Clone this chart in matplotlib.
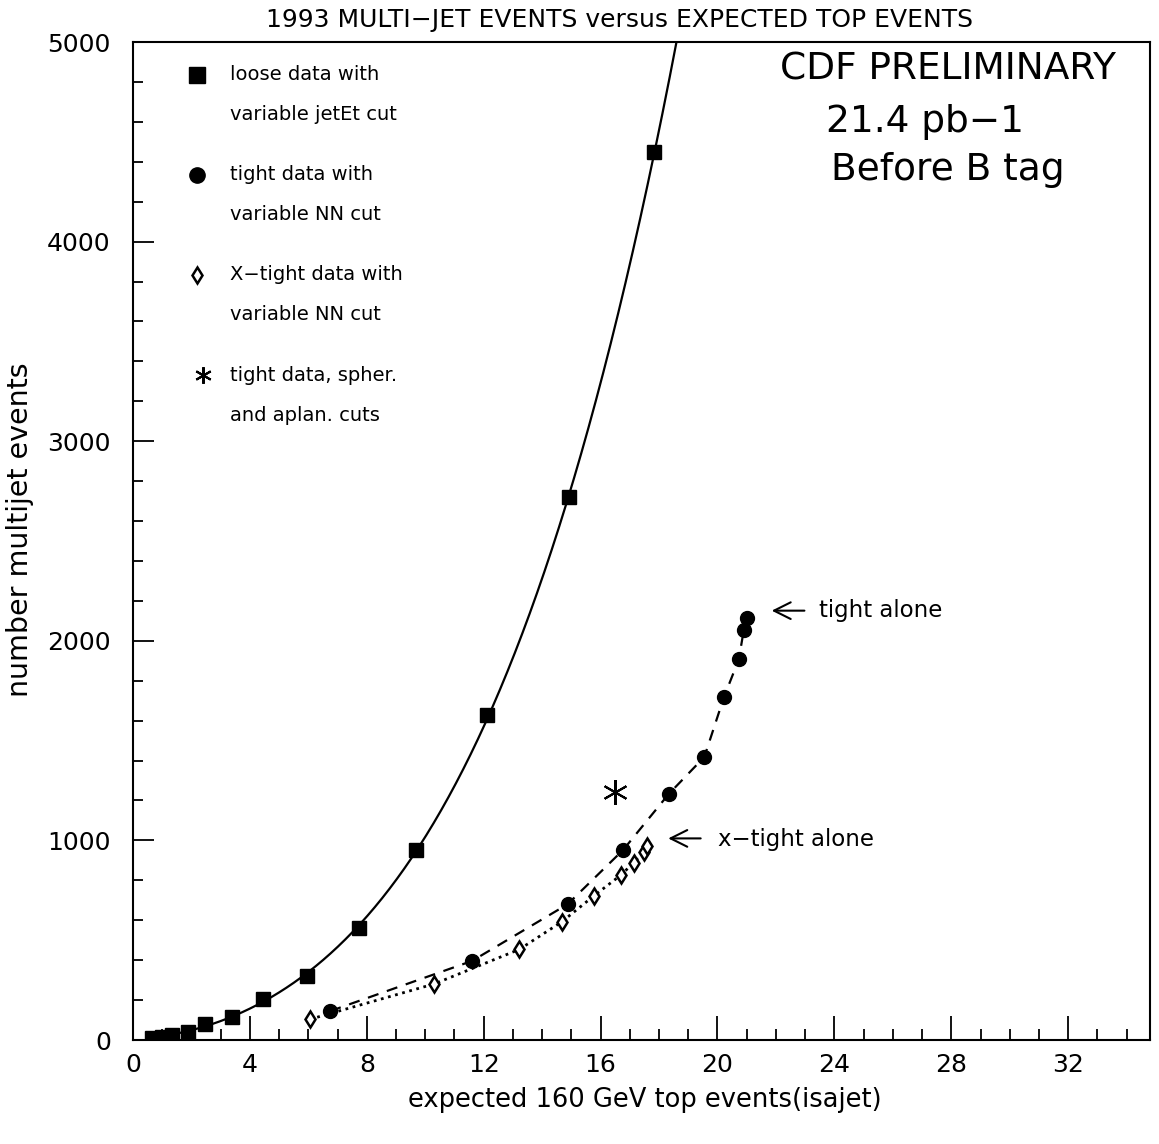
import numpy as np
import matplotlib
matplotlib.use('Agg')
import matplotlib.pyplot as plt

#----------------------------
#          DATA
#----------------------------
# loose data, variable jetEt cut
loose_x = [0.64, 0.98, 1.33, 1.89, 2.47, 3.38, 4.46, 5.95, 7.72, 9.69, 12.12, 14.93, 17.84]
loose_y = [10, 17, 25, 42, 80, 117, 204, 321, 560, 952, 1628, 2720, 4449]

# tight data, variable NN cut
tight_x = [6.75, 11.60, 14.87, 16.77, 18.33, 19.55, 20.22, 20.73, 20.90, 21.02]
tight_y = [145, 396, 680, 952, 1232, 1418, 1717, 1907, 2054, 2113]

# X-tight data, variable NN cut
xtight_x = [6.06, 10.31, 13.22, 14.68, 15.76, 16.70, 17.13, 17.48, 17.59]
xtight_y = [104, 281, 454, 593, 721, 827, 888, 943, 973]

# tight data, spher. and aplan. cuts
star_x = [16.51]
star_y = [1244]

legend_labels = ['loose data with', 'variable jetEt cut',
                 'tight data with', 'variable NN cut',
                 'X\u2212tight data with', 'variable NN cut',
                 'tight data, spher.', 'and aplan. cuts']

plt.rcParams['font.family'] = ['DejaVu Sans']

fig = plt.figure(figsize=(11.59, 11.44), dpi=100)
ax = fig.add_axes([133/1159, 1-1040/1144, 1017/1159, 998/1144])

# smooth curve through the loose points
coef = np.polyfit(loose_x, loose_y, 4)
xf = np.linspace(loose_x[0], 19.5, 300)
ax.plot(xf, np.polyval(coef, xf), color='black', lw=1.6)
ax.plot(loose_x, loose_y, 's', color='black', ms=10)

ax.plot(tight_x, tight_y, '--', color='black', lw=1.6, dashes=(5, 4))
ax.plot(tight_x, tight_y, 'o', color='black', ms=10)

ax.plot(xtight_x, xtight_y, ':', color='black', lw=2.0)
ax.plot(xtight_x, xtight_y, 'd', mfc='white', mec='black', mew=1.8, ms=8)

ax.plot(star_x, star_y, marker=(6, 2, 0), color='black', ms=18, mew=1.5, ls='none')

# annotations
ax.annotate('', xy=(21.76, 2151), xytext=(23.07, 2151),
            arrowprops=dict(arrowstyle='->', lw=1.5, mutation_scale=30, color='black'))
ax.text(23.46, 2151, 'tight alone', fontsize=16.5, va='center')
ax.annotate('', xy=(18.22, 1010), xytext=(19.52, 1010),
            arrowprops=dict(arrowstyle='->', lw=1.5, mutation_scale=30, color='black'))
ax.text(20.03, 1005, 'x\u2212tight alone', fontsize=16.5, va='center')

# legend drawn by hand
ly = [0.967, 0.927, 0.867, 0.827, 0.767, 0.727, 0.666, 0.626]
ax.plot(0.063, ly[0], 's', color='black', ms=11, transform=ax.transAxes)
ax.plot(0.063, ly[2], 'o', color='black', ms=11, transform=ax.transAxes)
ax.plot(0.063, ly[4], 'd', mfc='white', mec='black', mew=1.8, ms=8, transform=ax.transAxes)
ax.plot(0.069, ly[6], marker=(6, 2, 0), color='black', ms=12, mew=1.5, transform=ax.transAxes)
for k in range(len(legend_labels)):
    ax.text(0.0954, ly[k], legend_labels[k], fontsize=14, va='center', transform=ax.transAxes)

ax.text(0.801, 0.972, 'CDF PRELIMINARY', fontsize=27, ha='center', va='center', transform=ax.transAxes)
ax.text(0.779, 0.920, '21.4 pb\u22121', fontsize=27, ha='center', va='center', transform=ax.transAxes)
ax.text(0.801, 0.872, 'Before B tag', fontsize=27, ha='center', va='center', transform=ax.transAxes)

ax.set_xlim(0, 34.8)
ax.set_ylim(0, 5000)
ax.set_xticks(np.arange(0, 33, 4))
ax.set_xticks(np.arange(0, 35, 1), minor=True)
ax.set_yticks(np.arange(0, 5001, 1000))
ax.set_yticks(np.arange(0, 5001, 200), minor=True)
ax.tick_params(which='both', direction='in', top=False, right=False, width=1.3)
ax.tick_params(axis='x', which='major', length=17, labelsize=18, pad=9)
ax.tick_params(axis='x', which='minor', length=8)
ax.tick_params(axis='y', which='major', length=15, labelsize=18, pad=16)
ax.tick_params(axis='y', which='minor', length=7)
for s in ax.spines.values():
    s.set_linewidth(1.5)

fig.text(620/1159, 1-20/1144, '1993 MULTI\u2212JET EVENTS versus EXPECTED TOP EVENTS',
         fontsize=18, ha='center', va='center')
fig.text(20/1159, 1-530/1144, 'number multijet events', fontsize=20.5, rotation=90,
         ha='center', va='center')
fig.text(645/1159, 1-1100/1144, 'expected 160 GeV top events(isajet)', fontsize=18.5,
         ha='center', va='center')

plt.savefig('out.png')
